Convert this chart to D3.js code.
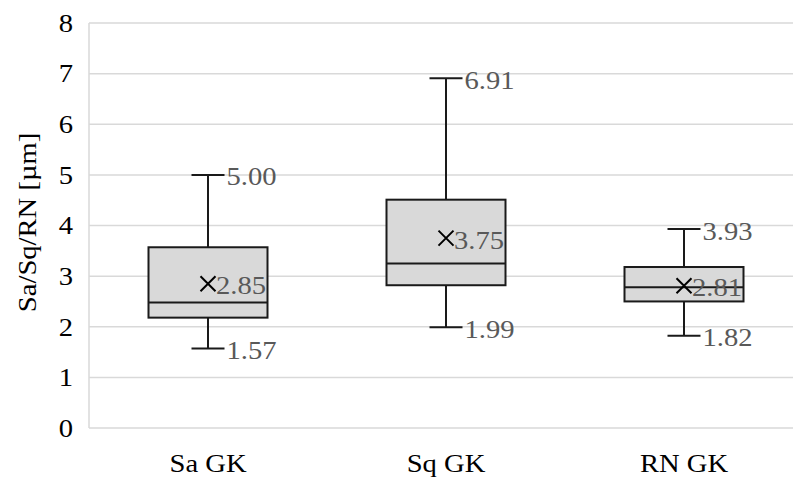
<!DOCTYPE html>
<html>
<head>
<meta charset="utf-8">
<script src="https://cdn.jsdelivr.net/npm/d3@7"></script>
<style>
  html, body { margin: 0; padding: 0; background: #fff; }
</style>
</head>
<body>
<svg id="chart" width="793" height="480"></svg>
<script>
// Box-plot statistics per group
const categories = ["Sa GK", "Sq GK", "RN GK"];
const minValues    = [1.57, 1.99, 1.82];
const q1Values     = [2.18, 2.82, 2.50];
const medianValues = [2.48, 3.25, 2.78];
const q3Values     = [3.57, 4.51, 3.18];
const maxValues    = [5.00, 6.91, 3.93];
const meanValues   = [2.85, 3.75, 2.81];
const yTicks = [0, 1, 2, 3, 4, 5, 6, 7, 8];
const yTitle = "Sa/Sq/RN [µm]";

const rows = categories.map((c, i) => ({
  cat: c, min: minValues[i], q1: q1Values[i], med: medianValues[i],
  q3: q3Values[i], max: maxValues[i], mean: meanValues[i]
}));

const FONT = "Liberation Serif, Times New Roman, DejaVu Serif, serif";
const fontSize = 26;
const widen = 1.1; // slightly wider glyphs, as in the Times-style original

const svg = d3.select("#chart");
const plot = { left: 89, right: 803, top: 23, bottom: 428 };

const x = d3.scaleBand().domain(categories).range([plot.left, plot.right]).padding(0);
const y = d3.scaleLinear().domain([0, 8]).range([plot.bottom, plot.top]);

const gridColor = "#d9d9d9";
const labelGray = "#595959";

// Horizontal gridlines
svg.append("g").selectAll("line").data(yTicks).join("line")
  .attr("x1", plot.left).attr("x2", plot.right)
  .attr("y1", d => y(d)).attr("y2", d => y(d))
  .attr("stroke", gridColor).attr("stroke-width", 1.5);

// Left axis line
svg.append("line")
  .attr("x1", plot.left).attr("x2", plot.left)
  .attr("y1", y(8)).attr("y2", y(0))
  .attr("stroke", gridColor).attr("stroke-width", 1.5);

// Y tick labels
const yAxis = d3.axisLeft(y).tickValues(yTicks).tickSize(0).tickPadding(0).tickFormat(d3.format("d"));
const yg = svg.append("g").attr("transform", `translate(${plot.left},0)`).call(yAxis)
  .attr("font-family", FONT).attr("font-size", fontSize);
yg.select(".domain").remove();
yg.selectAll("text").attr("fill", "#000").attr("x", 0)
  .attr("transform", `translate(-16,0) scale(${widen},1)`);

// X category labels
const xAxis = d3.axisBottom(x).tickSize(0).tickPadding(0);
const xg = svg.append("g").attr("transform", `translate(0,${plot.bottom})`).call(xAxis)
  .attr("font-family", FONT).attr("font-size", fontSize);
xg.select(".domain").remove();
xg.selectAll("text").attr("fill", "#000").attr("y", 0).attr("dy", 0)
  .attr("transform", `translate(0,44) scale(${widen},1)`);

// Y axis title
svg.append("text")
  .attr("transform", `translate(36,${(plot.top + plot.bottom) / 2 - 3}) rotate(-90) scale(${widen},1)`)
  .attr("text-anchor", "middle")
  .attr("font-family", FONT)
  .attr("font-size", fontSize)
  .attr("fill", "#000")
  .text(yTitle);

const boxW = x.bandwidth() * 0.5;
const capW = 33;
const stroke = "#1a1a1a";
const sw = 2;

const g = svg.append("g").selectAll("g").data(rows).join("g")
  .attr("transform", d => `translate(${x(d.cat) + x.bandwidth() / 2},0)`);

// Whiskers
g.append("line").attr("x1", 0).attr("x2", 0)
  .attr("y1", d => y(d.max)).attr("y2", d => y(d.q3))
  .attr("stroke", stroke).attr("stroke-width", sw);
g.append("line").attr("x1", 0).attr("x2", 0)
  .attr("y1", d => y(d.q1)).attr("y2", d => y(d.min))
  .attr("stroke", stroke).attr("stroke-width", sw);
// Caps
g.append("line").attr("x1", -capW / 2).attr("x2", capW / 2)
  .attr("y1", d => y(d.max)).attr("y2", d => y(d.max))
  .attr("stroke", stroke).attr("stroke-width", sw);
g.append("line").attr("x1", -capW / 2).attr("x2", capW / 2)
  .attr("y1", d => y(d.min)).attr("y2", d => y(d.min))
  .attr("stroke", stroke).attr("stroke-width", sw);

// Box
g.append("rect")
  .attr("x", -boxW / 2).attr("width", boxW)
  .attr("y", d => y(d.q3)).attr("height", d => y(d.q1) - y(d.q3))
  .attr("fill", "#d9d9d9").attr("stroke", stroke).attr("stroke-width", sw);
// Median
g.append("line").attr("x1", -boxW / 2).attr("x2", boxW / 2)
  .attr("y1", d => y(d.med)).attr("y2", d => y(d.med))
  .attr("stroke", stroke).attr("stroke-width", sw);

// Mean marker (x)
const m = 7.5;
g.append("path")
  .attr("d", d => `M${-m},${y(d.mean) - m}L${m},${y(d.mean) + m}M${-m},${y(d.mean) + m}L${m},${y(d.mean) - m}`)
  .attr("stroke", "#000").attr("stroke-width", 2).attr("fill", "none");

// Value labels
function addLabel(sel, xOff, val) {
  sel.append("text")
    .attr("transform", d => `translate(${xOff},${y(val(d)) + 2}) scale(${widen},1)`)
    .attr("dominant-baseline", "central")
    .attr("font-family", FONT)
    .attr("font-size", fontSize)
    .attr("fill", labelGray)
    .text(d => val(d).toFixed(2));
}
addLabel(g, capW / 2 + 2, d => d.max);
addLabel(g, capW / 2 + 2, d => d.min);
addLabel(g, 8, d => d.mean);
</script>
</body>
</html>
